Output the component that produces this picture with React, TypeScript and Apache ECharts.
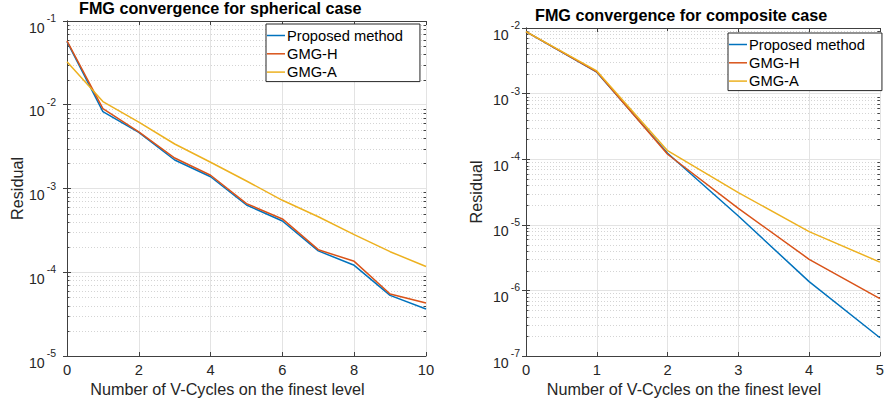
import React, { useEffect, useRef } from "react";
import * as echarts from "echarts";

// Left chart: spherical case
const leftX = [0, 1, 2, 3, 4, 5, 6, 7, 8, 9, 10];
const leftProposed = [0.0566, 0.00826, 0.00469, 0.00219, 0.00138, 0.000635, 0.000409, 0.00018, 0.000121, 0.000053, 0.0000364];
const leftGMGH = [0.058, 0.00897, 0.00475, 0.00231, 0.00144, 0.00066, 0.000433, 0.000186, 0.000135, 0.000055, 0.000043];
const leftGMGA = [0.0327, 0.0109, 0.0062, 0.0034, 0.00206, 0.00123, 0.000723, 0.00046, 0.000281, 0.000176, 0.000117];

// Right chart: composite case
const rightX = [0, 1, 2, 3, 4, 5];
const rightProposed = [0.0088, 0.00212, 0.000123, 0.0000136, 0.00000136, 0.00000019];
const rightGMGH = [0.0088, 0.00215, 0.000119, 0.0000178, 0.00000298, 0.00000075];
const rightGMGA = [0.0088, 0.00222, 0.000135, 0.000031, 0.00000786, 0.0000027];

const seriesNames = ["Proposed method", "GMG-H", "GMG-A"];
const colors = ["#0072BD", "#D95319", "#EDB120"];

const titles = ["FMG convergence for spherical case", "FMG convergence for composite case"];
const xName = "Number of V-Cycles on the finest level";
const yName = "Residual";

const FONT = "'Liberation Sans', Arial, Helvetica, sans-serif";
const AX = "#262626";

function minorValues(minExp: number, maxExp: number): number[][] {
  const out: number[][] = [];
  for (let e = minExp; e < maxExp; e++) {
    for (let m = 2; m <= 9; m++) out.push([0, m * Math.pow(10, e)]);
  }
  return out;
}

function logLabel(v: number) {
  const e = Math.round(Math.log10(v));
  return `{base|10}{sup|${e}}`;
}

const labelRich = {
  base: { fontSize: 14.2, color: AX, fontFamily: FONT, lineHeight: 22, verticalAlign: "bottom" },
  sup: { fontSize: 10.5, color: AX, fontFamily: FONT, lineHeight: 10, verticalAlign: "top", padding: [0, 0, 0, 2] },
};

export default function App() {
  const ref = useRef<HTMLDivElement>(null);
  useEffect(() => {
    if (!ref.current) return;
    const chart = echarts.init(ref.current, undefined, { renderer: "svg" });

    const mkX = (gridIndex: number, max: number, interval: number, top: boolean) => ({
      type: "value",
      gridIndex,
      position: top ? "top" : "bottom",
      min: 0,
      max,
      interval,
      name: top ? "" : xName,
      nameLocation: "middle",
      nameGap: 25,
      nameMoveOverlap: false,
      nameTextStyle: { fontSize: 16.2, color: AX, fontFamily: FONT, padding: [0, 38, 0, 0] },
      axisLine: { show: true, onZero: false, lineStyle: { color: "#404040", width: 1 } },
      axisTick: { show: true, inside: true, length: 4, lineStyle: { color: "#404040" } },
      axisLabel: {
        show: !top,
        margin: 6,
        fontSize: 14.7,
        color: AX,
        fontFamily: FONT,
      },
      splitLine: { show: !top, lineStyle: { color: "#e3e3e3", width: 1 } },
    });

    const mkY = (gridIndex: number, min: number, max: number, right: boolean, margin: number) => ({
      type: "log",
      logBase: 10,
      gridIndex,
      position: right ? "right" : "left",
      min,
      max,
      splitNumber: Math.round(Math.log10(max / min)),
      name: right ? "" : yName,
      nameLocation: "middle",
      nameGap: 42,
      nameMoveOverlap: false,
      nameTextStyle: { fontSize: 16.2, color: AX, fontFamily: FONT },
      axisLine: { show: true, lineStyle: { color: "#404040", width: 1 } },
      axisTick: { show: true, inside: true, length: 4, lineStyle: { color: "#404040" } },
      axisLabel: {
        show: !right,
        margin,
        fontSize: 14.2,
        fontFamily: FONT,
        color: AX,
        padding: [5, 0, 0, 0],
        formatter: logLabel,
        rich: labelRich,
      },
      splitLine: { show: !right, lineStyle: { color: "#e3e3e3", width: 1 } },
    });

    // minor grid (dotted) lines and minor ticks on both vertical edges, placed through the log scale
    const minorSeries = (xi: number, yi: number, vals: number[][]) => ({
      type: "custom",
      name: "_minor" + xi,
      xAxisIndex: xi,
      yAxisIndex: yi,
      data: vals,
      encode: { x: 0, y: 1 },
      silent: true,
      z: 1,
      clip: false,
      renderItem: (params: any, api: any) => {
        const v = api.value(1);
        const p = api.coord([0, v]);
        const cs = params.coordSys;
        const x1 = cs.x;
        const x2 = cs.x + cs.width;
        const y = Math.round(p[1]) + 0.5;
        return {
          type: "group",
          children: [
            { type: "line", shape: { x1, y1: y, x2, y2: y }, style: { stroke: "#d4d4d4", lineWidth: 1, lineDash: [1, 2] } },
            { type: "line", shape: { x1, y1: y, x2: x1 + 2.5, y2: y }, style: { stroke: "#404040", lineWidth: 1 } },
            { type: "line", shape: { x1: x2 - 2.5, y1: y, x2, y2: y }, style: { stroke: "#404040", lineWidth: 1 } },
          ],
        };
      },
    });

    const lineSeries = (name: string, color: string, xs: number[], ys: number[], xi: number, yi: number) => ({
      type: "line",
      name,
      xAxisIndex: xi,
      yAxisIndex: yi,
      data: xs.map((x, i) => [x, ys[i]]),
      showSymbol: false,
      symbol: "none",
      z: 3,
      lineStyle: { color, width: 1.5 },
      itemStyle: { color },
    });

    const legendBase = {
      orient: "vertical",
      data: seriesNames,
      icon: "rect",
      itemWidth: 18,
      itemHeight: 1.5,
      itemGap: 3.3,
      backgroundColor: "#ffffff",
      borderColor: "#262626",
      borderWidth: 1,
      borderRadius: 0,
      padding: [4, 17, 2, 1],
      selectedMode: false,
      z: 10,
      textStyle: { fontSize: 14.7, color: "#000", fontFamily: FONT, padding: [0, 0, 0, -3] },
    };

    chart.setOption({
      animation: false,
      backgroundColor: "#ffffff",
      color: colors,
      title: [
        { text: titles[0], left: 79, top: 0, padding: 0, textStyle: { fontSize: 16.2, fontWeight: "bold", color: "#000", fontFamily: FONT } },
        { text: titles[1], left: 535, top: 7, padding: 0, textStyle: { fontSize: 16.2, fontWeight: "bold", color: "#000", fontFamily: FONT } },
      ],
      legend: [
        { ...legendBase, left: 266, top: 24 },
        { ...legendBase, left: 728, top: 33 },
      ],
      grid: [
        { left: 67, top: 21, width: 359, height: 335, show: false },
        { left: 526, top: 28, width: 359, height: 328, show: false },
      ],
      xAxis: [mkX(0, 10, 2, false), mkX(0, 10, 2, true), mkX(1, 5, 1, false), mkX(1, 5, 1, true)],
      yAxis: [mkY(0, 1e-5, 1e-1, false, 11), mkY(0, 1e-5, 1e-1, true, 11), mkY(1, 1e-7, 1e-2, false, 6), mkY(1, 1e-7, 1e-2, true, 6)],
      series: [
        minorSeries(0, 0, minorValues(-5, -1)),
        minorSeries(2, 2, minorValues(-7, -2)),
        lineSeries(seriesNames[0], colors[0], leftX, leftProposed, 0, 0),
        lineSeries(seriesNames[1], colors[1], leftX, leftGMGH, 0, 0),
        lineSeries(seriesNames[2], colors[2], leftX, leftGMGA, 0, 0),
        lineSeries(seriesNames[0], colors[0], rightX, rightProposed, 2, 2),
        lineSeries(seriesNames[1], colors[1], rightX, rightGMGH, 2, 2),
        lineSeries(seriesNames[2], colors[2], rightX, rightGMGA, 2, 2),
      ],
    });
    return () => chart.dispose();
  }, []);
  return <div ref={ref} style={{ position: "fixed", left: 0, top: 0, width: 887, height: 410 }} />;
}
